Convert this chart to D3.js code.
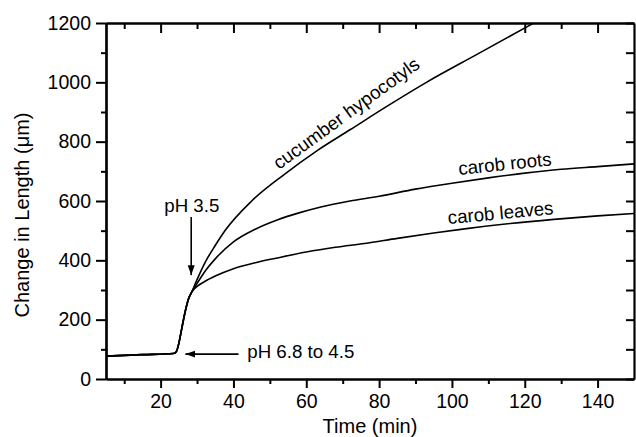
<!DOCTYPE html>
<html>
<head>
<meta charset="utf-8">
<script src="https://cdn.jsdelivr.net/npm/d3@7"></script>
<style>
  body { margin: 0; background: #fff; }
  svg { display: block; font-family: "Liberation Sans", Arial, Helvetica, sans-serif; }
</style>
</head>
<body>
<svg id="chart" width="636" height="437"></svg>
<script>
// baseline + first pH drop, shared by all three tissues (time in min, length change in µm)
const sharedT = [5, 15, 23.5, 24.3, 25, 25.8, 26.8, 27.6, 28.5];
const sharedV = [77, 82, 86, 92, 120, 170, 230, 268, 292];

// after pH 3.5
const cucumberT = [30, 32.3, 35, 37.8, 45, 54, 63, 72, 82, 93, 107, 122.5];
const cucumberV = [335, 395, 450, 502, 600, 690, 770, 840, 918, 1000, 1095, 1200];

const rootsT = [30, 32.3, 35, 40, 46, 52, 58, 64, 72, 80, 90, 100, 110, 120, 130, 140, 150];
const rootsV = [322, 365, 405, 462, 505, 536, 560, 580, 600, 616, 640, 660, 678, 694, 707, 716, 725];

const leavesT = [30, 32, 35, 40, 46, 52, 60, 68, 76, 85, 95, 104, 116, 128, 140, 150];
const leavesV = [312, 328, 347, 372, 392, 408, 428, 444, 457, 474, 492, 507, 524, 538, 550, 558];

const xMajor = [20, 40, 60, 80, 100, 120, 140];
const xMinor = [10, 30, 50, 70, 90, 110, 130];
const yMajor = [0, 200, 400, 600, 800, 1000, 1200];
const yMinor = [100, 300, 500, 700, 900, 1100];

const svg = d3.select("#chart");
const plotL = 106, plotR = 634, plotT = 23, plotB = 379;

const x = d3.scaleLinear().domain([5, 150]).range([plotL, plotR]);
const y = d3.scaleLinear().domain([0, 1200]).range([plotB, plotT]);

// clip so the cucumber curve stops at the frame
svg.append("clipPath").attr("id", "plot")
  .append("rect").attr("x", plotL).attr("y", plotT)
  .attr("width", plotR - plotL).attr("height", plotB - plotT);

function series(ts, vs){
  const pts = sharedT.map((t, i) => [t, sharedV[i]]);
  ts.forEach((t, i) => pts.push([t, vs[i]]));
  return pts;
}

const line = d3.line()
  .x(d => x(d[0]))
  .y(d => y(d[1]))
  .curve(d3.curveMonotoneX);

const curves = [series(cucumberT, cucumberV), series(rootsT, rootsV), series(leavesT, leavesV)];

svg.append("g").attr("clip-path", "url(#plot)")
  .selectAll("path")
  .data(curves)
  .enter().append("path")
  .attr("d", line)
  .attr("fill", "none")
  .attr("stroke", "#000")
  .attr("stroke-width", 1.6)
  .attr("stroke-linejoin", "round");

// axes: left/bottom ticks out, top/right ticks in (Origin style)
function axisGroup(axis, tf){
  const g = svg.append("g").attr("transform", tf).call(axis);
  g.select(".domain").attr("stroke-width", 2.2);
  g.selectAll(".tick line").attr("stroke-width", 2);
  g.selectAll("text").attr("fill", "#000").attr("font-size", 19.5);
  return g;
}

const fmt = d3.format("d");
axisGroup(d3.axisBottom(x).tickValues(xMajor).tickFormat(fmt).tickSize(9).tickPadding(6).tickSizeOuter(0), `translate(0,${plotB})`);
axisGroup(d3.axisBottom(x).tickValues(xMinor).tickSize(5).tickFormat("").tickSizeOuter(0), `translate(0,${plotB})`);
axisGroup(d3.axisLeft(y).tickValues(yMajor).tickFormat(fmt).tickSize(10).tickPadding(5).tickSizeOuter(0), `translate(${plotL},0)`);
axisGroup(d3.axisLeft(y).tickValues(yMinor).tickSize(5).tickFormat("").tickSizeOuter(0), `translate(${plotL},0)`);
axisGroup(d3.axisTop(x).tickValues(xMajor).tickSize(-10).tickFormat("").tickSizeOuter(0), `translate(0,${plotT})`);
axisGroup(d3.axisTop(x).tickValues(xMinor).tickSize(-6).tickFormat("").tickSizeOuter(0), `translate(0,${plotT})`);
axisGroup(d3.axisRight(y).tickValues(yMajor.concat(yMinor)).tickSize(-8).tickFormat("").tickSizeOuter(0), `translate(${plotR},0)`);

// axis titles
svg.append("text")
  .attr("x", (plotL + plotR) / 2).attr("y", 433)
  .attr("text-anchor", "middle").attr("font-size", 20)
  .text("Time (min)");

svg.append("text")
  .attr("transform", `translate(29,${(plotT + plotB) / 2 + 14}) rotate(-90)`)
  .attr("text-anchor", "middle").attr("font-size", 20)
  .text("Change in Length (\u03bcm)");

// curve labels
const labels = [
  { text: "cucumber hypocotyls", t: 72, v: 878, angle: -36 },
  { text: "carob roots", t: 114.7, v: 704, angle: -6 },
  { text: "carob leaves", t: 113.5, v: 539, angle: -5.4 }
];
svg.selectAll("text.lbl")
  .data(labels)
  .enter().append("text")
  .attr("class", "lbl")
  .attr("text-anchor", "middle")
  .attr("font-size", 18.7)
  .attr("transform", d => `translate(${x(d.t)},${y(d.v)}) rotate(${d.angle})`)
  .text(d => d.text);

// arrowheads
svg.append("defs").append("marker")
  .attr("id", "head").attr("viewBox", "0 0 10 10")
  .attr("refX", 10).attr("refY", 5)
  .attr("markerWidth", 10).attr("markerHeight", 10)
  .attr("markerUnits", "userSpaceOnUse")
  .attr("orient", "auto")
  .append("path").attr("d", "M0,1.5 L10,5 L0,8.5 Z").attr("fill", "#000");

// pH 3.5 annotation
svg.append("text").attr("x", x(21)).attr("y", y(563))
  .attr("font-size", 18.7).text("pH 3.5");
svg.append("line")
  .attr("x1", x(28.4)).attr("x2", x(28.4))
  .attr("y1", y(546)).attr("y2", y(350))
  .attr("stroke", "#000").attr("stroke-width", 1.6)
  .attr("marker-end", "url(#head)");

// pH 6.8 to 4.5 annotation
svg.append("line")
  .attr("x1", x(41.4)).attr("x2", x(26.8))
  .attr("y1", y(84)).attr("y2", y(84))
  .attr("stroke", "#000").attr("stroke-width", 1.6)
  .attr("marker-end", "url(#head)");
svg.append("text").attr("x", x(43.8)).attr("y", y(70))
  .attr("font-size", 18.7).text("pH 6.8 to 4.5");
</script>
</body>
</html>
